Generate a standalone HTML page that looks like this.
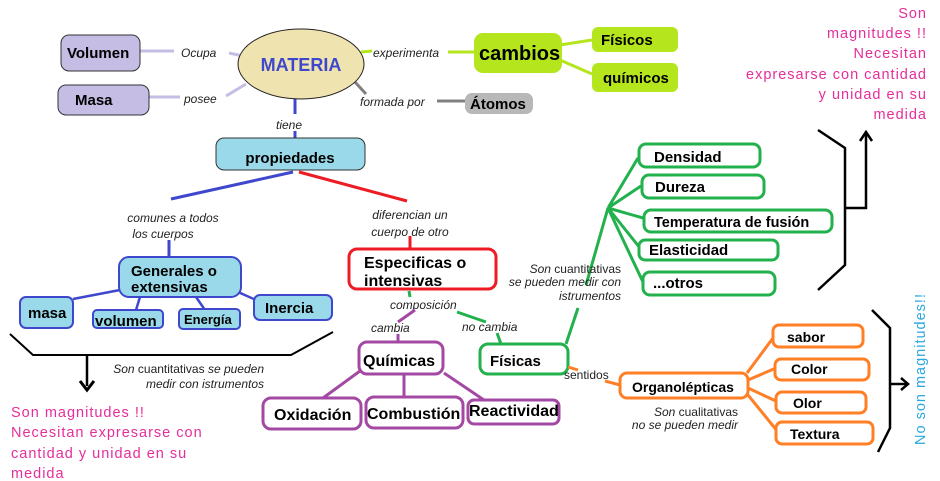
<!DOCTYPE html>
<html><head><meta charset="utf-8"><style>
html,body{margin:0;padding:0;background:#fff;width:940px;height:481px;overflow:hidden}
svg{display:block;font-family:"Liberation Sans",Arial,sans-serif}
.b{font-weight:bold;fill:#000}
.i{font-style:italic;font-size:12px;fill:#222}
.pk{fill:#e62e9a;font-size:14.5px;letter-spacing:1px}
</style></head><body>
<svg width="940" height="481" viewBox="0 0 940 481">
<!-- top connectors -->
<g stroke="#c5bde3" stroke-width="3" fill="none">
<line x1="140" y1="51" x2="174" y2="51"/><line x1="229" y1="53" x2="243" y2="56"/>
<line x1="149" y1="97" x2="180" y2="97"/><line x1="226" y1="96" x2="246" y2="84"/>
</g>
<g stroke="#b5e51d" stroke-width="3" fill="none">
<line x1="361" y1="52" x2="372" y2="51"/><line x1="448" y1="52" x2="475" y2="52"/>
<path d="M560 45 L592 40"/><path d="M560 60 L592 74"/>
</g>
<g stroke="#808080" stroke-width="3" fill="none">
<line x1="355" y1="82" x2="366" y2="94"/><line x1="437" y1="101" x2="465" y2="101"/>
</g>
<line x1="295" y1="99" x2="295" y2="114" stroke="#3f48cc" stroke-width="3"/>
<line x1="295" y1="131" x2="295" y2="138" stroke="#3f48cc" stroke-width="3"/>
<!-- nodes top -->
<rect x="61" y="35" width="79" height="36" rx="8" fill="#c5bde3" stroke="#333" stroke-width="1"/>
<text x="67" y="58" class="b" font-size="15">Volumen</text>
<rect x="58" y="85" width="91" height="30" rx="8" fill="#c5bde3" stroke="#333" stroke-width="1"/>
<text x="75" y="105" class="b" font-size="15">Masa</text>
<ellipse cx="301" cy="64" rx="63" ry="35" fill="#efe4b0" stroke="#222" stroke-width="1"/>
<text x="301" y="71" text-anchor="middle" font-size="18" font-weight="bold" fill="#3f48cc">MATERIA</text>
<text x="181" y="57" class="i">Ocupa</text>
<text x="184" y="103" class="i">posee</text>
<text x="373" y="57" class="i">experimenta</text>
<text x="360" y="106" class="i">formada por</text>
<text x="276" y="129" class="i">tiene</text>
<rect x="474" y="33" width="88" height="40" rx="9" fill="#b5e51d"/>
<text x="479" y="60" class="b" font-size="20">cambios</text>
<rect x="592" y="27" width="86" height="25" rx="6" fill="#b5e51d"/>
<text x="601" y="45" class="b" font-size="15">Físicos</text>
<rect x="592" y="63" width="86" height="29" rx="6" fill="#b5e51d"/>
<text x="603" y="83" class="b" font-size="15">químicos</text>
<rect x="465" y="93" width="68" height="21" rx="7" fill="#b8b8b8"/>
<text x="470" y="109" class="b" font-size="15">Átomos</text>
<rect x="216" y="138" width="149" height="32" rx="8" fill="#99d9ea" stroke="#333" stroke-width="1"/>
<text x="290" y="163" text-anchor="middle" class="b" font-size="15">propiedades</text>
<!-- branches -->
<line x1="293" y1="172" x2="171" y2="199" stroke="#3f48cc" stroke-width="3"/>
<line x1="299" y1="172" x2="407" y2="201" stroke="#ed1c24" stroke-width="3"/>
<text x="173" y="222" text-anchor="middle" class="i">comunes a todos</text>
<text x="163" y="238" text-anchor="middle" class="i">los cuerpos</text>
<text x="410" y="219" text-anchor="middle" class="i">diferencian un</text>
<text x="410" y="236" text-anchor="middle" class="i">cuerpo de otro</text>
<line x1="169" y1="240" x2="169" y2="257" stroke="#3f48cc" stroke-width="3"/>
<line x1="410" y1="236" x2="410" y2="249" stroke="#ed1c24" stroke-width="3"/>
<!-- generales -->
<g stroke="#3f48cc" stroke-width="2.5" fill="none">
<line x1="120" y1="290" x2="73" y2="299"/><line x1="140" y1="297" x2="136" y2="310"/>
<line x1="196" y1="297" x2="205" y2="310"/><line x1="238" y1="292" x2="256" y2="300"/>
</g>
<g fill="#99d9ea" stroke="#3f48cc" stroke-width="2">
<rect x="119" y="257" width="122" height="40" rx="10"/>
<rect x="20" y="297" width="53" height="31" rx="6"/>
<rect x="93" y="310" width="70" height="18" rx="4"/>
<rect x="179" y="309" width="61" height="20" rx="4"/>
<rect x="254" y="295" width="78" height="25" rx="6"/>
</g>
<text x="131" y="276" class="b" font-size="15">Generales o</text>
<text x="131" y="292" class="b" font-size="15">extensivas</text>
<text x="28" y="318" class="b" font-size="15">masa</text>
<text x="95" y="326" class="b" font-size="15">volumen</text>
<text x="184" y="324" class="b" font-size="13">Energía</text>
<text x="265" y="313" class="b" font-size="15">Inercia</text>
<path d="M10 334 L33 355 L291 355 L333 332" stroke="#000" stroke-width="2" fill="none"/>
<line x1="87" y1="355" x2="87" y2="386" stroke="#000" stroke-width="2.5"/>
<path d="M80 381 L87 390 L94 381" stroke="#000" stroke-width="3" fill="none"/>
<text x="264" y="373" text-anchor="end" class="i" font-size="11.5">Son <tspan font-style="normal">cuantitativas</tspan> se pueden</text>
<text x="264" y="388" text-anchor="end" class="i" font-size="11.5">medir con istrumentos</text>
<text x="11" y="417" class="pk">Son magnitudes !!</text>
<text x="11" y="437" class="pk">Necesitan expresarse con</text>
<text x="11" y="458" class="pk">cantidad y unidad en su</text>
<text x="11" y="478" class="pk">medida</text>
<!-- especificas -->
<rect x="349" y="249" width="147" height="40" rx="8" fill="#fff" stroke="#ed1c24" stroke-width="3"/>
<text x="364" y="268" class="b" font-size="16">Especificas  o</text>
<text x="364" y="286" class="b" font-size="16">intensivas</text>
<text x="390" y="309" class="i">composición</text>
<text x="371" y="332" class="i">cambia</text>
<text x="462" y="331" class="i">no cambia</text>
<g stroke="#a349a4" stroke-width="3" fill="none">
<line x1="415" y1="310" x2="398" y2="322"/><line x1="398" y1="334" x2="398" y2="342"/>
<line x1="360" y1="371" x2="323" y2="398"/><line x1="404" y1="374" x2="404" y2="397"/>
<line x1="444" y1="373" x2="484" y2="400"/>
</g>
<g stroke="#22b14c" stroke-width="3" fill="none">
<line x1="409" y1="291" x2="410" y2="297"/><line x1="457" y1="312" x2="486" y2="322"/>
<line x1="497" y1="333" x2="501" y2="344"/>
<path d="M566 344 L578 308 M586 285 L608 208"/>
<path d="M608 208 L638 158 M608 208 L641 186 M608 208 L643 218 M608 208 L640 248 M608 208 L643 282"/>
</g>
<g fill="#fff" stroke="#a349a4" stroke-width="3">
<rect x="359" y="342" width="84" height="32" rx="8"/>
<rect x="263" y="398" width="98" height="31" rx="8"/>
<rect x="366" y="397" width="97" height="31" rx="8"/>
<rect x="468" y="400" width="91" height="24" rx="6"/>
</g>
<text x="363" y="366" class="b" font-size="16">Químicas</text>
<text x="274" y="420" class="b" font-size="16">Oxidación</text>
<text x="367" y="419" class="b" font-size="16">Combustión</text>
<text x="469" y="416" class="b" font-size="16">Reactividad</text>
<g fill="#fff" stroke="#22b14c" stroke-width="3">
<rect x="480" y="344" width="88" height="30" rx="8"/>
<rect x="639" y="144" width="121" height="23" rx="7"/>
<rect x="642" y="175" width="122" height="23" rx="7"/>
<rect x="644" y="210" width="188" height="22" rx="7"/>
<rect x="639" y="240" width="139" height="20" rx="6"/>
<rect x="643" y="272" width="132" height="23" rx="7"/>
</g>
<text x="490" y="366" class="b" font-size="15">Físicas</text>
<text x="654" y="162" class="b" font-size="15">Densidad</text>
<text x="655" y="192" class="b" font-size="15">Dureza</text>
<text x="654" y="227" class="b" font-size="14.5">Temperatura de fusión</text>
<text x="649" y="255" class="b" font-size="15">Elasticidad</text>
<text x="653" y="288" class="b" font-size="15">...otros</text>
<text x="621" y="273" text-anchor="end" class="i" font-size="11">Son <tspan font-style="normal">cuantitativas</tspan></text>
<text x="621" y="286" text-anchor="end" class="i" font-size="11">se pueden medir con</text>
<text x="621" y="300" text-anchor="end" class="i" font-size="11">istrumentos</text>
<!-- organolepticas -->
<g stroke="#ff7f27" stroke-width="3" fill="none">
<line x1="568" y1="367" x2="578" y2="370"/><line x1="605" y1="381" x2="620" y2="385"/>
<path d="M747 373 L773 338 M748 380 L776 368 M748 388 L778 402 M748 395 L778 432"/>
</g>
<text x="564" y="379" font-size="12" fill="#222">sentidos</text>
<g fill="#fff" stroke="#ff7f27" stroke-width="3">
<rect x="620" y="373" width="128" height="25" rx="7"/>
<rect x="773" y="325" width="90" height="22" rx="6"/>
<rect x="775" y="359" width="94" height="21" rx="6"/>
<rect x="776" y="392" width="90" height="21" rx="6"/>
<rect x="776" y="422" width="97" height="22" rx="6"/>
</g>
<text x="632" y="392" class="b" font-size="14">Organolépticas</text>
<text x="787" y="342" class="b" font-size="14">sabor</text>
<text x="791" y="374" class="b" font-size="14">Color</text>
<text x="793" y="408" class="b" font-size="14">Olor</text>
<text x="790" y="439" class="b" font-size="14">Textura</text>
<text x="738" y="416" text-anchor="end" class="i" font-size="11">Son <tspan font-style="normal">cualitativas</tspan></text>
<text x="738" y="429" text-anchor="end" class="i" font-size="11">no se pueden medir</text>
<!-- right brackets -->
<g stroke="#000" stroke-width="2.5" fill="none">
<path d="M818 130 L845 148 L845 265 L818 290"/>
<path d="M845 208 L866 208 L866 134"/>
<path d="M860 141 L866 132 L872 141"/>
<path d="M872 310 L890 328 L890 428 L878 452"/>
<path d="M890 384 L906 384"/>
<path d="M901 378 L908 384 L901 390"/>
</g>
<g class="pk" text-anchor="end">
<text x="927" y="18">Son</text>
<text x="927" y="38">magnitudes !!</text>
<text x="927" y="58">Necesitan</text>
<text x="927" y="79">expresarse con cantidad</text>
<text x="927" y="99">y unidad en su</text>
<text x="927" y="119">medida</text>
</g>
<text transform="translate(925,445) rotate(-90)" font-size="14.5" letter-spacing="1" fill="#29a8e0">No son magnitudes!!</text>
</svg>
</body></html>
